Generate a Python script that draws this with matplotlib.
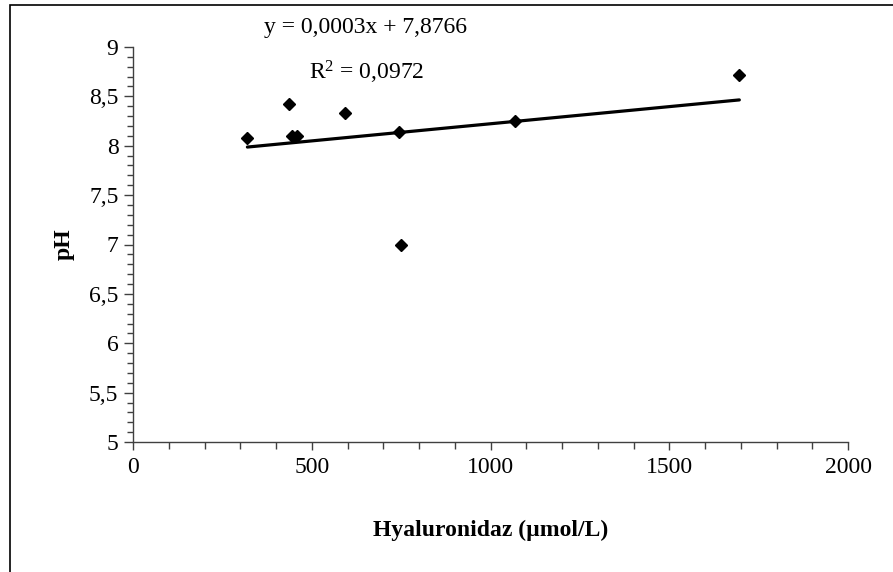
import numpy as np
import matplotlib
matplotlib.use("Agg")
import matplotlib.pyplot as plt
from matplotlib.patches import Rectangle
from matplotlib.ticker import MultipleLocator, FuncFormatter

# Hyaluronidase activity vs. pH
hyaluronidaz = [320, 437, 445, 458, 593, 745, 750, 1068, 1696]
ph = [8.08, 8.42, 8.10, 8.10, 8.335, 8.136, 7.00, 8.25, 8.72]

x_ticks = [0, 500, 1000, 1500, 2000]
y_ticks = [5, 5.5, 6, 6.5, 7, 7.5, 8, 8.5, 9]

plt.rcParams['font.family'] = ['Liberation Serif', 'DejaVu Serif']
plt.rcParams['mathtext.fontset'] = 'custom'
plt.rcParams['mathtext.rm'] = 'Liberation Serif'
plt.rcParams['mathtext.it'] = 'Liberation Serif:italic'
plt.rcParams['mathtext.bf'] = 'Liberation Serif:bold'

FS = 17

fig = plt.figure(figsize=(8.93, 5.72), dpi=100)
ax = fig.add_axes([133 / 893, 1 - 442 / 572, 715 / 893, 395 / 572])

axis_col = '#404040'

# linear trend line (least squares)
x = np.array(hyaluronidaz, dtype=float)
y = np.array(ph, dtype=float)
slope, intercept = np.polyfit(x, y, 1)
xl = np.array([x.min(), x.max()])
ax.plot(xl, slope * xl + intercept, color='black', lw=2.3, solid_capstyle='round',
        zorder=2)

ax.plot(x, y, linestyle='none', marker='D', ms=6.6, color='black', zorder=3)

ax.set_xlim(0, 2000)
ax.set_ylim(5, 9)
ax.set_xticks(x_ticks)
ax.set_yticks(y_ticks)
ax.xaxis.set_minor_locator(MultipleLocator(100))
ax.yaxis.set_minor_locator(MultipleLocator(0.1))


def comma_fmt(v, pos):
    return ('%g' % v).replace('.', ',')


ax.xaxis.set_major_formatter(FuncFormatter(comma_fmt))
ax.yaxis.set_major_formatter(FuncFormatter(comma_fmt))

for side in ('top', 'right'):
    ax.spines[side].set_visible(False)
for side in ('left', 'bottom'):
    ax.spines[side].set_color(axis_col)
    ax.spines[side].set_linewidth(1.0)

ax.tick_params(axis='both', which='both', direction='out', color=axis_col,
               width=1.0, labelsize=FS, labelcolor='black')
ax.tick_params(axis='y', which='major', length=6.5, pad=4)
ax.tick_params(axis='y', which='minor', length=4.3)
ax.tick_params(axis='x', which='major', length=6, pad=5)
ax.tick_params(axis='x', which='minor', length=5)

ax.set_xlabel('Hyaluronidaz (µmol/L)', fontsize=FS, fontweight='bold', labelpad=30)
ax.set_ylabel('pH', fontsize=FS, fontweight='bold', labelpad=10)

# regression equation
fig.text(366 / 893, 1 - 28 / 572, 'y = 0,0003x + 7,8766', fontsize=FS,
         ha='center', va='center')
fig.text(367 / 893, 1 - 72 / 572, 'R$^2$ = 0,0972', fontsize=FS,
         ha='center', va='center')

# chart frame
fig.patches.append(Rectangle((10 / 893, -0.1), 2.0, 0.1 + 1 - 5 / 572,
                             transform=fig.transFigure, fill=False,
                             ec='black', lw=1.2))

fig.savefig('out.png', dpi=100)
